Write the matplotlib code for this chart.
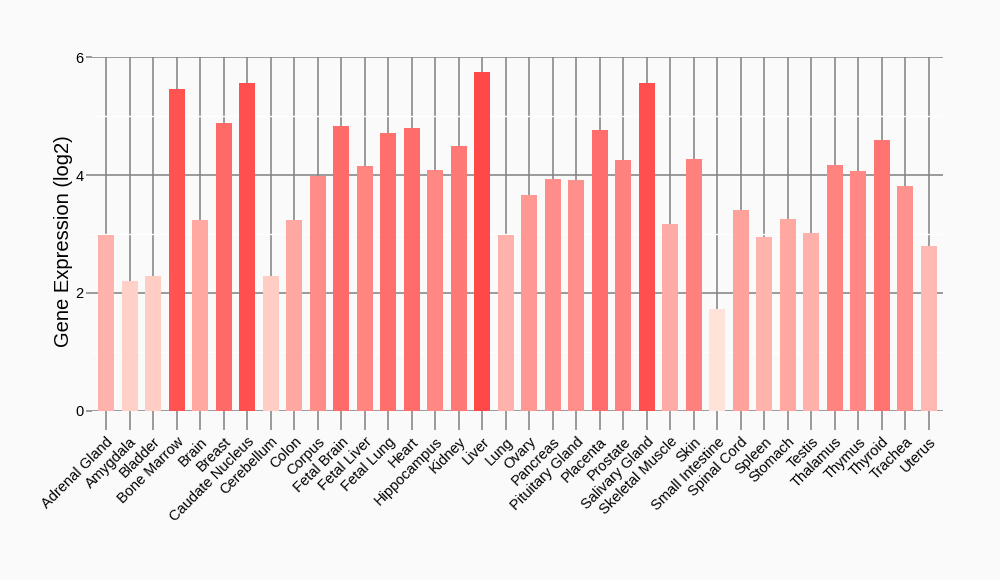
import matplotlib
matplotlib.use("Agg")
import matplotlib.pyplot as plt
from matplotlib.colors import LinearSegmentedColormap, Normalize
import numpy as np

plt.rcParams['font.family'] = ['Liberation Sans', 'DejaVu Sans']

# tissues
tissues = ["Adrenal Gland", "Amygdala", "Bladder", "Bone Marrow", "Brain", "Breast",
           "Caudate Nucleus", "Cerebellum", "Colon", "Corpus", "Fetal Brain", "Fetal Liver",
           "Fetal Lung", "Heart", "Hippocampus", "Kidney", "Liver", "Lung", "Ovary",
           "Pancreas", "Pituitary Gland", "Placenta", "Prostate", "Salivary Gland",
           "Skeletal Muscle", "Skin", "Small Intestine", "Spinal Cord", "Spleen", "Stomach",
           "Testis", "Thalamus", "Thymus", "Thyroid", "Trachea", "Uterus"]
# expression values (log2)
expression = [2.98, 2.21, 2.29, 5.46, 3.24, 4.88,
              5.56, 2.29, 3.24, 3.99, 4.83, 4.15,
              4.71, 4.80, 4.08, 4.50, 5.75, 2.98, 3.66,
              3.93, 3.91, 4.76, 4.25, 5.56,
              3.17, 4.27, 1.73, 3.41, 2.95, 3.25,
              3.02, 4.17, 4.07, 4.59, 3.81, 2.80]
yticks = [0, 2, 4, 6]

# colour follows value, light salmon -> red
cmap = LinearSegmentedColormap.from_list("reds", ["#FFE2D8", "#FF4848"])
norm = Normalize(vmin=min(expression), vmax=max(expression))
colors = cmap(norm(np.array(expression)))

bg = "#FAFAFA"
fig = plt.figure(figsize=(10, 5.8), dpi=100, facecolor=bg)
ax = fig.add_axes([0.092, 0.2914, 0.851, 0.6103])
ax.set_facecolor(bg)

x = np.arange(len(tissues))
ax.bar(x, expression, width=0.68, color=colors, zorder=3)

ax.set_xlim(-0.6, len(tissues) - 0.4)
ax.set_ylim(0, 6)
ax.set_yticks(yticks)
ax.set_yticks([1, 3, 5], minor=True)
ax.set_xticks(x)
ax.set_xticklabels(tissues, rotation=45, ha="right", rotation_mode="anchor", fontsize=10.5)

ax.grid(True, which="major", color="#808080", linewidth=1.1, zorder=1)
ax.grid(True, which="minor", axis="y", color="white", linewidth=1.0, zorder=1)
ax.tick_params(axis="x", length=14, color="#808080", width=1.1, pad=3)
ax.tick_params(axis="y", which="major", length=4, color="#808080", width=1.1, labelsize=10.5, pad=2)
ax.tick_params(axis="y", which="minor", length=0)
for s in ax.spines.values():
    s.set_visible(False)

ax.set_ylabel("Gene Expression (log2)", fontsize=14.5)
ax.yaxis.set_label_coords(-0.022, 0.48)

fig.savefig("out.png", dpi=100, facecolor=bg)
